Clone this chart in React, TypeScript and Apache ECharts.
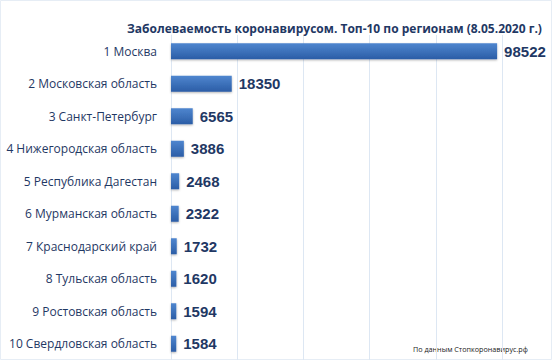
import React, { useEffect, useRef } from "react";
import * as echarts from "echarts";

const categories = [
  "1 Москва",
  "2 Московская область",
  "3 Санкт-Петербург",
  "4 Нижегородская область",
  "5 Республика Дагестан",
  "6 Мурманская область",
  "7 Краснодарский край",
  "8 Тульская область",
  "9 Ростовская область",
  "10 Свердловская область",
];
const values = [98522, 18350, 6565, 3886, 2468, 2322, 1732, 1620, 1594, 1584];
const titleText = "Заболеваемость коронавирусом. Топ-10 по регионам (8.05.2020 г.)";
const sourceText = "По данным Стопкоронавирус.рф";

export default function App() {
  const ref = useRef<HTMLDivElement>(null);
  useEffect(() => {
    if (!ref.current) return;
    const chart = echarts.init(ref.current, null, { renderer: "svg" });
    chart.setOption({
      animation: false,
      backgroundColor: "#ffffff",
      title: {
        text: titleText,
        left: 122,
        top: 17,
        textStyle: { fontFamily: "Open Sans", fontWeight: "bold", fontSize: 12, color: "#1f3864" },
      },
      graphic: [
        {
          type: "text",
          left: 413,
          top: 345,
          style: { text: sourceText, fontFamily: "Open Sans", fontSize: 7.2, fill: "#222222" },
        },
        {
          type: "rect",
          shape: { x: 0.5, y: 0.5, width: 551, height: 359 },
          style: { fill: "none", stroke: "#e6edf5", lineWidth: 1 },
        },
      ],
      grid: { left: 171, top: 35, width: 331, height: 328, containLabel: false },
      xAxis: {
        type: "value",
        min: 0,
        max: 100000,
        interval: 20000,
        axisLabel: { show: false },
        axisLine: { show: false },
        axisTick: { show: false },
        splitLine: { show: true, lineStyle: { color: "#dde7f3", width: 1 } },
      },
      yAxis: {
        type: "category",
        inverse: true,
        data: categories,
        axisLine: { show: true, lineStyle: { color: "#dde7f3" } },
        axisTick: { show: false },
        axisLabel: {
          margin: 14,
          fontFamily: "Open Sans",
          fontSize: 12,
          color: "#1f3864",
        },
      },
      series: [
        {
          type: "bar",
          data: values,
          barWidth: 16,
          itemStyle: {
            color: new echarts.graphic.LinearGradient(0, 0, 0, 1, [
              { offset: 0, color: "#4f86cf" },
              { offset: 1, color: "#2b5da6" },
            ]),
            shadowColor: "rgba(0,0,0,0.3)",
            shadowBlur: 2,
            shadowOffsetY: 1,
          },
          label: {
            show: true,
            position: "right",
            distance: 7,
            fontFamily: "Liberation Sans",
            fontWeight: "bold",
            fontSize: 15,
            color: "#1f3864",
          },
        },
      ],
    });
    return () => chart.dispose();
  }, []);
  return <div ref={ref} style={{ position: "fixed", left: 0, top: 0, width: 552, height: 360 }} />;
}
